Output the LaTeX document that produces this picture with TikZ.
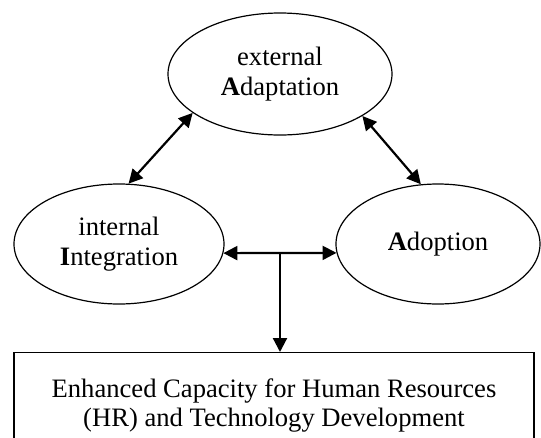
\documentclass[tikz,border=0pt]{standalone}
\usepackage{fontspec}
\setmainfont{Liberation Serif}
\usetikzlibrary{shapes.geometric,arrows.meta}

\begin{document}
\begin{tikzpicture}[x=1pt,y=-1pt,
    bubble/.style={ellipse,draw,line width=1.2pt,inner sep=0pt,align=center,
      font=\fontsize{26.6}{29.5}\selectfont},
    outbox/.style={rectangle,draw,line width=1.2pt,inner sep=0pt,align=center,
      minimum width=520pt,minimum height=106pt,font=\fontsize{26.6}{29.5}\selectfont},
    link/.style={line width=2.2pt,-{Triangle[length=14pt,width=14pt]}},
    bilink/.style={line width=2.2pt,{Triangle[length=14pt,width=14pt]}-{Triangle[length=14pt,width=14pt]}}]
  \useasboundingbox (0,0) rectangle (541,437);
  \clip (0,0) rectangle (541,437);

  % the three A's
  \node[bubble,minimum width=224pt,minimum height=122pt] (extA) at (280,74) {external\\\textbf{A}daptation};
  \node[bubble,minimum width=210pt,minimum height=120pt] (intI) at (119,244) {internal\\\textbf{I}ntegration};
  \node[bubble,minimum width=204pt,minimum height=120pt] (adopt) at (438,244) {\raisebox{6pt}{\textbf{A}doption}};

  % outcome (bottom edge lies below the page)
  \node[outbox,anchor=north] (capacity) at (274,352) {Enhanced Capacity for Human Resources\\(HR) and Technology Development};

  \coordinate (hub) at (280,254);

  \draw[bilink] (intI.81) -- (extA.204);
  \draw[bilink] (adopt.106) -- (extA.333);
  \draw[bilink] (intI.-5.5) -- (adopt.185.5);
  \draw[link] (hub) -- (hub |- capacity.north);
\end{tikzpicture}
\end{document}
